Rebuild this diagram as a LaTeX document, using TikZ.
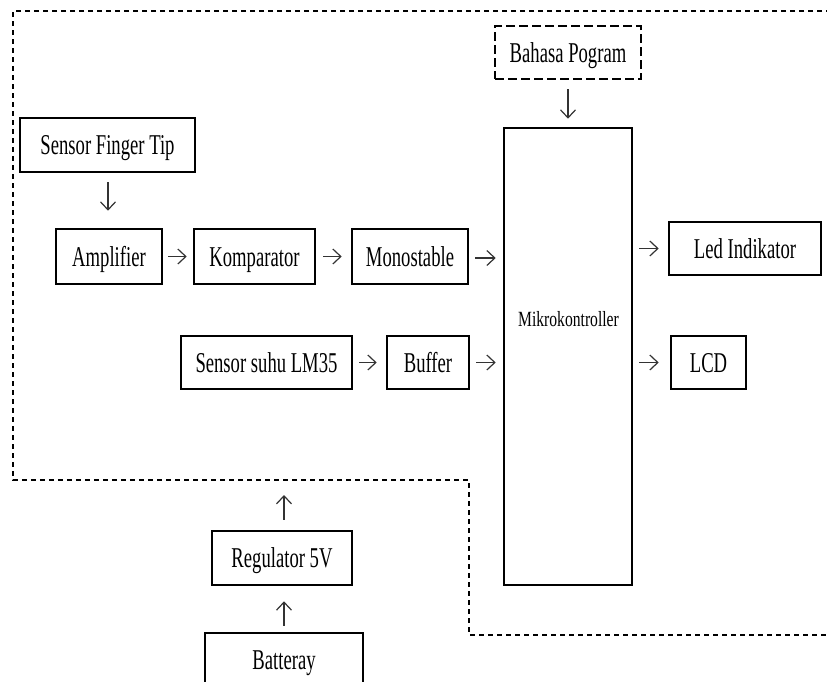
\documentclass[tikz,border=0pt]{standalone}
\usepackage{fontspec}
\setmainfont[FakeStretch=0.65]{Liberation Serif}
\newfontfamily\mkfont[FakeStretch=0.72]{Liberation Serif}
\usetikzlibrary{arrows.meta,calc}
\begin{document}
\begin{tikzpicture}[x=1pt,y=-1pt,
  blk/.style={draw, line width=2.6pt, inner sep=0pt, minimum height=54pt,
    text height=19pt, text depth=0pt, font=\fontsize{28.7}{34}\selectfont},
  dblk/.style={blk, dash pattern=on 9pt off 4pt},
  arr/.style={line width=1.2pt, draw=black!80, -{Straight Barb[length=8pt,width=15pt]}},
  outline/.style={line width=1.2pt, dash pattern=on 5pt off 4pt}]
\clip (0,0) rectangle (827,681);
\fill[white] (0,0) rectangle (827,681);

% dashed system boundary
\draw[outline] (840,11) -- (13,11) -- (13,480) -- (469,480) -- (469,635) -- (840,635);

% blocks
\node[blk, minimum width=175pt] (sft) at (107.5,145) {Sensor Finger Tip};
\node[blk, minimum width=106pt, minimum height=55pt] (amp) at (109,256.5) {Amplifier};
\node[blk, minimum width=121pt, minimum height=55pt] (kom) at (254.5,256.5) {Komparator};
\node[blk, minimum width=116pt, minimum height=55pt] (mono) at (410,256.5) {Monostable};
\node[dblk, minimum width=146pt, minimum height=53pt] (bhs) at (568,52.5) {Bahasa Pogram};
\node[blk, minimum width=128pt, minimum height=457pt] (mk) at (568,356.5) {};
\node[inner sep=0pt, text height=14.3pt, text depth=0pt, font=\mkfont\fontsize{21.7}{26}\selectfont] (mklbl) at (568.5,319) {Mikrokontroller};
\node[blk, minimum width=152pt, minimum height=53pt] (led) at (745,248.5) {Led Indikator};
\node[blk, minimum width=75pt, minimum height=53pt] (lcd) at (708.5,362.5) {LCD};
\node[blk, minimum width=171pt, minimum height=53pt] (lm) at (266.5,362.5) {Sensor suhu LM35};
\node[blk, minimum width=82pt, minimum height=53pt] (buf) at (428,362.5) {Buffer};
\node[blk, minimum width=140pt] (reg) at (282,558) {Regulator 5V};
\node[blk, minimum width=158pt] (bat) at (284,660) {Batteray};
\coordinate (pwr) at (284,495);
\coordinate (sftout) at (108,172);
\coordinate (monoout) at (468,258);

% connectors
\draw[arr, shorten <=10pt, shorten >=17pt] (sftout) -- (sftout |- amp.north);
\draw[arr, shorten <=5pt, shorten >=6pt] (amp.east) -- (kom.west);
\draw[arr, shorten <=7pt, shorten >=9pt] (kom.east) -- (mono.west);
\draw[arr, shorten <=7pt, shorten >=7pt] (monoout) -- (monoout -| mk.west);
\draw[arr, shorten <=9pt, shorten >=8pt] (bhs.south) -- (mk.north);
\draw[arr, shorten <=6pt, shorten >=9pt] (mk.east |- led.west) -- (led.west);
\draw[arr, shorten <=6pt, shorten >=11pt] (mk.east |- lcd.west) -- (lcd.west);
\draw[arr, shorten <=6pt, shorten >=9pt] (lm.east) -- (buf.west);
\draw[arr, shorten <=6pt, shorten >=7pt] (buf.east) -- (buf.east -| mk.west);
\draw[arr, shorten <=10pt] (reg.north -| pwr) -- (pwr);
\draw[arr, shorten <=6pt, shorten >=15pt] (bat.north) -- (bat.north |- reg.south);
\end{tikzpicture}
\end{document}
